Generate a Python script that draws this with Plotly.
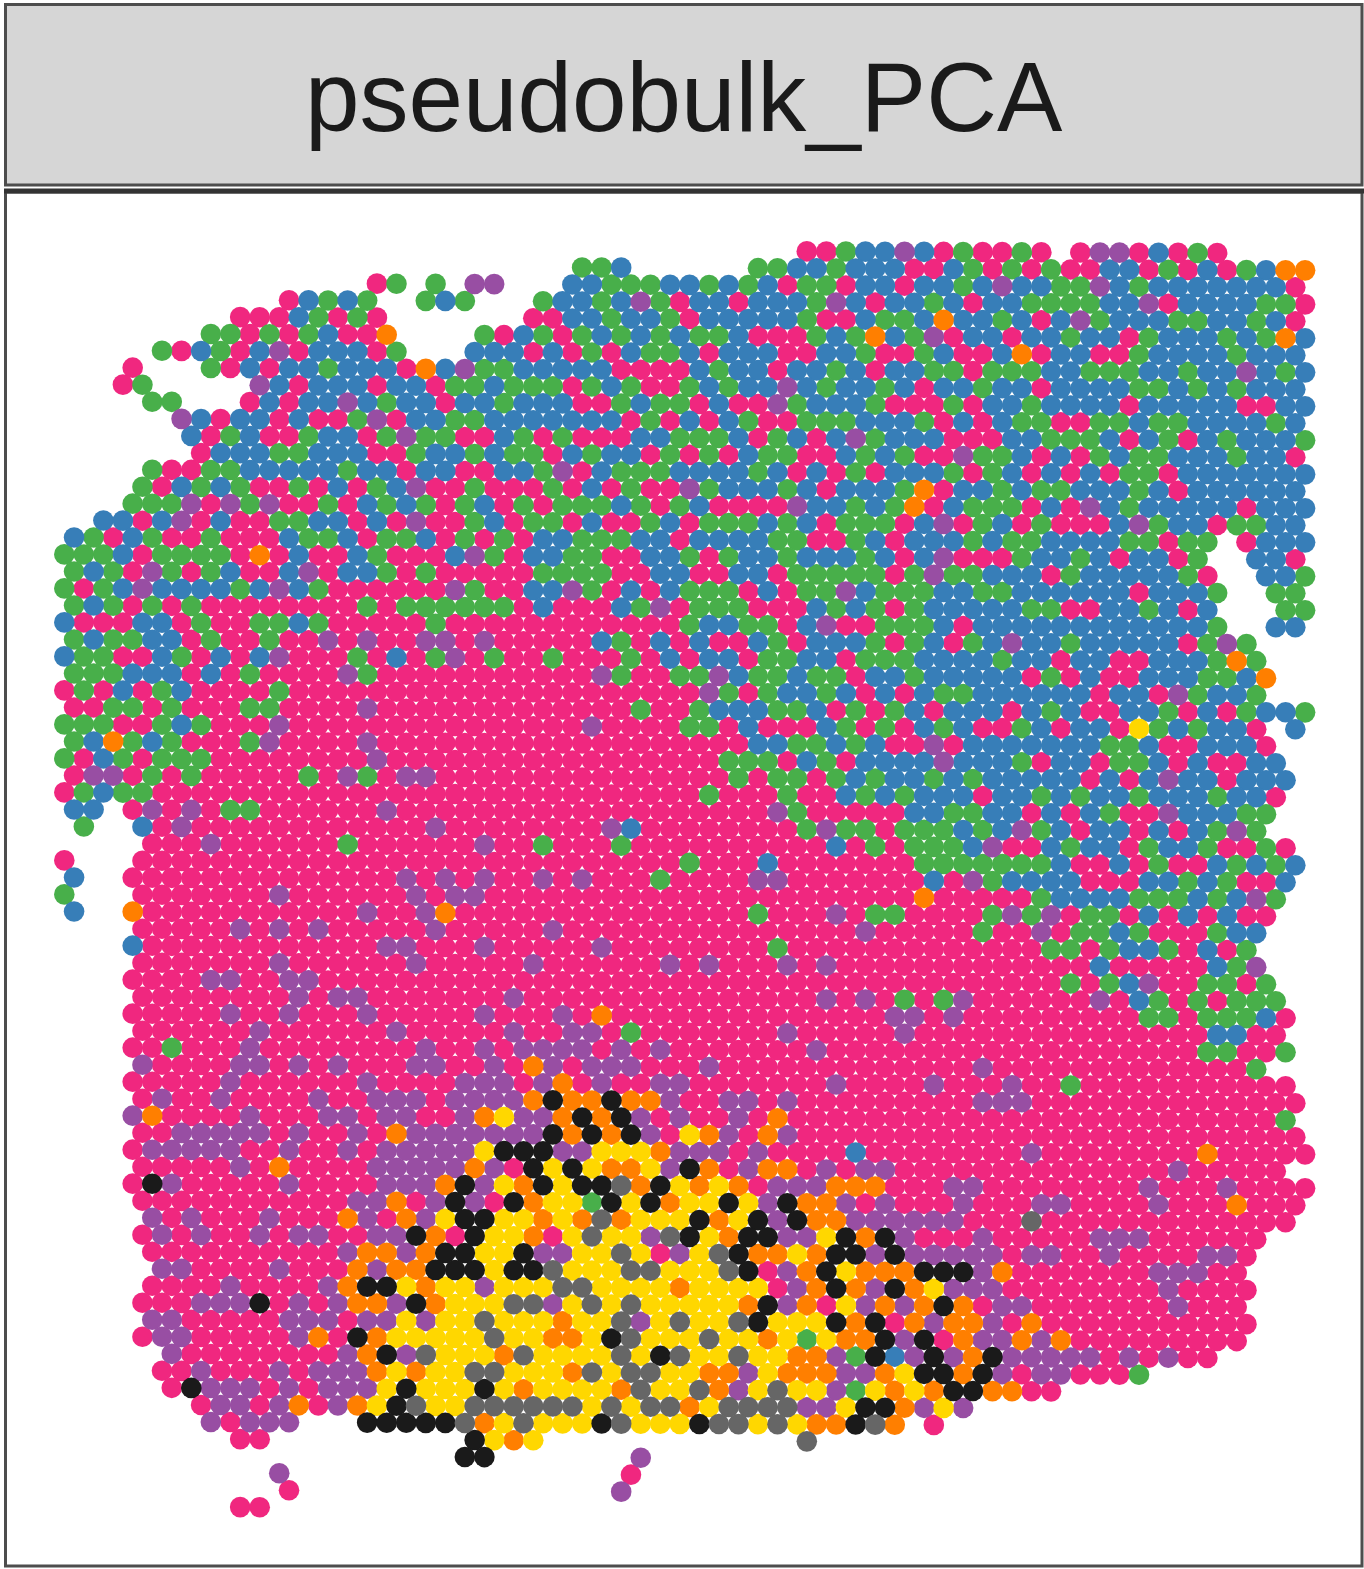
import plotly.graph_objects as go

TITLE = "pseudobulk_PCA"
CATEGORY_COLORS = {
    "M": "#F0277F", "G": "#48AF4A", "B": "#377EB8", "P": "#984EA3",
    "O": "#FF7F00", "Y": "#FFD700", "K": "#1A1A1A", "D": "#666666",
}
CATEGORY_ORDER = ["M", "G", "B", "P", "O", "Y", "K", "D"]

# One entry per grid row. "i:LETTERS" places spots from column i, "a-b" is a run of M.
ROWS = [
"38:MMGBBP 44:BMGMMGM 52:MPPMBMGM",
"26:GGB 35:GGBBGBBB 43:MMBGMGMGMMBBMGMBMGBOO",
"16:MG 19:G 21:PP 26:BBGGGBBGBGBMGGMBB 43:MBBGBPBBGGPBGBBBBBBBM",
"11:MBGBG 18:GBG 24:GBBGBPGMBBMBBBGPBMB 43:BGBMBBGGGGBBPMBBBBGGM",
"9:MMMBGMGM 24:MMBBGBBGMBBBBBGMMBGG 44:BOBBGBMBPGBBBGGBBGBM",
"7:GGMGMGBMMO 21:GMBGMGBGBGBGGBMMMGBGOBG 44:PMBBMBBGBBMGBBBGBGOB",
"5:GMBGMBPMBBBMG 21:BBBMBMGMBGGBMBBBMMBBGMM 44:GBMMBOMBBMMGBBBBGBBB",
"3:M 7:GMBMBBGBBBMOBP 21:GGBBBBBMMMMBGBBMBBGBMB 43:BGGMGGGBBGGGBBGBBPBGB",
"3:MG 10:PBMBBBMBBMG 21:GBGGGMGBGMMGBGBBPBGBBGB 44:MBBGBBMBBBBGGBGBGBBB",
"4:GG 9:MBMBBPBGBBM 20:BBGBBBMMGBGGMBMMPGBBBGM 43:MMGMBBGBBBBMBBBBBMMBB",
"6:PBMBBMBMMGPMBBG 21:GBBBBBBBMGMBMBGMMGGGBBB 44:GMBMBGGMMGGBGGBBBBGB",
"6:BMGBMMGBBMGPGG 20:MMBGMGMMMBBGGGBMGBMBPGB 43:BBMMMBBGGGBMBGMBGBBBG",
"7:MBBBGGBBBMMGBB 21:GBGGMBGBBMGMGMBGGMMBGBG 44:MMPGGBMBMGBGGBBBGBBM",
"4:GMMGGBBBBBGBBMBBM 21:MBBGPMBGGGBBBBGBMBMGMB 43:BBGMGBMBMBMGGMBBBBBBB",
"4:GMBGBGMMGMBMGBPMM 21:GMMMGMBMGMMPGBBBGBMBBBG 44:OMBBGBGGBBBGBMBBBBBB",
"3:GGGPMPGPMMGMBGBGMG 21:BMGMGGGBGMGBMMMMPBBGBG 43:OMBGGGMBMPBGBBBBBMBBB",
"2:BBMBPMBMMGGBBMBMPMM 21:GBMGGMBMMGBMGGGBGBMGGGM 44:BPMGBMGMMMBPGBBMGGBB",
"0:BGMBGMMGMMMBGGBMGGBMG 21:MGMBBGGGBBMBBBBGGMMGBMB 44:BBGBGGBBBBGGMGG 60:MBBB",
"0:GGGBMGGGGMOMBMMBGMMMB 21:PGMBBGGMMBBGMGBBGBBBGBM 44:BPMMMGBBGBMBBMG 61:BBM",
"0:GBGMPGMGBMMBPMBBGMGMM 21:MMMGGGGMMBBMMBBMGGGGGM 43:GPGGBBBMGBBBBBGM 61:BBG",
"0:GMGBPBBBBGBPBGMMMMMMP 21:GMMBBPGMBMBGGGMBMGGPBGG 44:GBBGGBBBBBBMBBBG 62:GG",
"0:GBGMGMGMMMMMMMMGMGGGG 21:GGMBMMMBGPMGGGMMMBGBGMG 44:BBBBBGGMMBBGBMB 62:GG",
"0:BMMMBBMGMMGGBGMMMMMGM 21:MMMMMMMMMMMGBBGGMBPMMGG 44:GBMBBBBBBBBBBBBG 62:BB",
"0:GBGGBBMGMMGMMPMPMMPPM 21:PMMMMMBGMBMBMMBGMBBBGM 43:GBMGBPBBGBBBBBMGPG",
"0:BGGMMBGMBMBPMMMGMBMGP 21:MGMMGMMMGMBMBBMGGBBMGG 43:GBBBBGBBMBBMMBBBGOG",
"0:GGGBBBMBMGMMMMPG 16-26 27:PGMMGGPBGGBGGMBB 43:GBBBBBMGMBMMBBBGGBO",
"0:MGMBMGBMMMMG 12-32 33:PGMGBBGBMBM 44:BGGBBBBBBMBBMPGBBG",
"0:MMGGMGMMMGGMMMMP 16-28 29:GMMGBBBGGBMGMG 43:BMBBBMBGBMMBBGMBMGBBG",
"0:GGGMMGBGMMMP 12-26 27:PMMMMGGMBMMMBGMGM 44:BGBMMGBMBBMYGBGBBM 63:B",
"0:GBOGBGMMMGPMMMMP 16-34 35:BBGGBGBMM 44:PMBBBBBBBGGBMMBBBM",
"0:GMBGMGGG 8-15 16:P 17-33 34:GGGMBGMBBB 44:BPBBBGMBBMGGBMBMMBB",
"0:MPPMGMG 7-11 12:GMPGMPP 19-33 34:GMGGMGBGBB 44:GBGBBBBBMBMBPBBMBBB",
"0:MGBGG 5-32 33:G 34-36 37:GMMBGBG 44:BBBMBBGBGBBGBBBGBBM",
"0:BB 3:MPMPMGG 10-15 16:P 17-35 36:PGMMMMMBB 45:GGBBMBMBGMMPBBBGG",
"1:G 4:BMP 7-18 19:P 20-27 28:PB 30-37 38:GPGGMG 44:GGBGBPGBMBBMBMBGPG",
"4:MMMP 8-13 14:G 15-20 21:P 22-23 24:G 25-27 28:G 29-38 39:BMGMG 44:GGBPMMBGBBMGBBGMMGM",
"0:M 4-31 32:G 33-35 36:B 37-43 44:GGGGGGG 51:BMMBMGMMBGBGB",
"0:B 3-16 17:PMPMPMMPMPMMM 30:G 31-34 35:PP 37-43 44:BMPGBBBBMMMBBGBGMMB",
"0:G 4-43 11:P 18:P 20:PP 44:OMMMMMGBBBBGGGBGBPG",
"0:B 3:O 4-34 15:P 18:PO 35:G 36-38 39:PMGG 43:MMMMGPGPMGGMBMBMBMM",
"4-46 9:P 11:P 13:P 19:P 25:P 41:P 47:GMMPMGGBGMMMGBB",
"3:B 4-49 16:PP 21:P 27:P 36:G 50:GGMGBBGMBMG",
"4-58 11:P 18:P 24:P 31:P 33:P 37:P 39:P 53:B 59:BGP",
"3-50 7:PP 11:PP 51:GMGBPMMGGMG",
"4-59 12:P 14:PP 23:P 39:P 41:P 43:G 45:GP 53:P 55:BG 58:G 60:GGG",
"3-57 8:P 11:P 15:P 21:P 25:P 27:O 42:PP 45:P 55:GG 58:GGGBM",
"4-58 10:P 17:P 23:P 26:PP 29:G 37:P 43:P 59:BBMM",
"3-57 5:G 9:P 18:P 21:P 23:PPPP 28:P 30:P 38:P 58:GGMMG",
"4-60 4:P 9:PP 12:P 14:P 18:PP 22:P 24:OP 27:PPP 33:P 47:P 61:G",
"3-62 8:P 15:P 20:PPP 24:PO 27:P 30:PP 39:P 44:P 48:P 51:G",
"4-63 5:P 8:P 13:P 16:PPP 20:PPPP 24:OKOOKOOP 34:PP 37:P 47:PPP",
"3-61 3:PO 9:P 13:PP 16:PP 20:POYPPOKOKPMP 34:P 36:O 62:G",
"4-63 6:PPPPP 12:P 15:P 17:OPPPPPPP 25:KOKOKP 32:YOP 36:OP",
"3-63 4:PPPPP 11:P 14:P 16:PPPPPYKKKPPYYYOPPP 35:P 40:B 49:P 58:O",
"4-62 9:P 11:O 16:PPPPPOPMKYKYOOYPKO 35:P 36:OO 39:P 41:PP 57:P",
"3-63 4:KP 11:P 16:PPPOKPYOKYKKDOKYOYO 36:PPP 39:OOO 45:PP 55:P 59:P",
"4-63 15:PPOMPKPMKOYYGKYKOYYKYPKOOPMP 46:P 50:PP 56:P 60:O",
"4-62 4:P 6:P 10:P 14:OPMOPYKKYYOYODOYYYKOYKPKOOPPPPPP 49:D",
"4-61 5:P 7:P 10:P 12:PP 16:PPKOMKYYOMYDYYPDKYOKKPPYKOKP 47:P 53:PPP",
"4-60 14:POOPOKKYYKPPYYDYMPYDKOOYOKKPKPPPPP 49:PP 53:P 58:PP",
"5-60 5:PP 11:P 15:OPOOKKKYKKDYYYDDYYYDKMPOKYOOOKKKPO 56:PPP",
"4-60 8:P 13:POKKYOYYPYYYDDYYYYOYYYYMPOKOPKOYPPP 56:P",
"4-60 7:PPPKMPMPOOPKOYYYDDPYDYDYYYYYOKPOMYPOPOKOMPP 57:P",
"4-60 4:PP 11:PPP 15:PPYPYYDYYYOYYDPYDYYDKYYYKOKMOPOOPMO",
"4-60 5:PP 12:POMKOYYYYYDYYOOYKDYYYDYYOYGYOOKPKMOPPOPO",
"5-58 5:P 14:POKPDYYYODYYYYDYKDYYDYYOOPGKBPKPOK 48:PPPPP 54:P 56:P",
"5-54 7:P 11:P 13:PPPOYOYYDDYYYODYDDYYOOPYOOOPPOYKKOKP 50:PP 55:G",
"5:MKPPPMPMPPPYKYYYKYOYYYYODYYDOPYDYYPGYOYOKKOOMM",
"7:MPPMPOMPOYKDYYDDDDDDYDYDDOYDDDDPPYKKOPYP",
"7:PMPPP 15:KKKKKDOYDYYYKDYYYKDDYDYOOKDO 44:M",
"9:MM 21:KYOY 38:D",
"20:KK 29:P",
"11:P 29:M",
"11:M 28:P",
"9:MM",
]

# pixel calibration of the hexagonal grid inside the 1364x1569 page
COL_STEP, ROW_STEP, X0, Y0, SHEAR = 19.54, 17.0, 64.3, 248.4, 0.004
W, H = 1364, 1569


def decode(row):
    cells = {}
    for tok in row.split():
        if ":" in tok:
            start, letters = tok.split(":")
            for k, ch in enumerate(letters):
                cells[int(start) + k] = ch
        else:
            a, b = tok.split("-")
            for k in range(int(a), int(b) + 1):
                cells[k] = "M"
    return cells


xs = {c: [] for c in CATEGORY_ORDER}
ys = {c: [] for c in CATEGORY_ORDER}
for r, row in enumerate(ROWS):
    for col, cat in decode(row).items():
        gx = col + (0.5 if r % 2 else 0.0)
        xs[cat].append(gx)
        ys[cat].append(r + gx * COL_STEP * SHEAR / ROW_STEP)

fig = go.Figure()
for cat in CATEGORY_ORDER:
    fig.add_trace(go.Scatter(
        x=xs[cat], y=ys[cat], mode="markers", name=cat, showlegend=False,
        marker=dict(color=CATEGORY_COLORS[cat], size=20.6, line=dict(width=0)),
        cliponaxis=False, hoverinfo="skip",
    ))

BORDER = "#333333"
def px_x(v):
    return v / W
def px_y(v):
    return 1 - v / H

fig.add_shape(type="rect", xref="paper", yref="paper", layer="below",
              x0=px_x(5.5), x1=px_x(1362), y0=px_y(4.5), y1=px_y(185),
              fillcolor="#D6D6D6", line=dict(color="#4D4D4D", width=3))
fig.add_shape(type="rect", xref="paper", yref="paper", layer="below",
              x0=px_x(5.5), x1=px_x(1362), y0=px_y(192), y1=px_y(1566),
              fillcolor="white", line=dict(color="#4D4D4D", width=3))
fig.add_shape(type="line", xref="paper", yref="paper", layer="below",
              x0=px_x(4), x1=px_x(1364), y0=px_y(191), y1=px_y(191),
              line=dict(color=BORDER, width=5))

fig.add_annotation(text=TITLE, xref="paper", yref="paper", x=px_x(684), y=px_y(97),
                   xanchor="center", yanchor="middle", showarrow=False,
                   font=dict(family="Liberation Sans", size=98, color="#1A1A1A"))

fig.update_layout(
    width=W, height=H, autosize=False,
    margin=dict(l=0, r=0, t=0, b=0),
    paper_bgcolor="white", plot_bgcolor="rgba(0,0,0,0)",
    showlegend=False,
    xaxis=dict(range=[-X0 / COL_STEP, (W - X0) / COL_STEP], visible=False, domain=[0, 1]),
    yaxis=dict(range=[(H - Y0) / ROW_STEP, -Y0 / ROW_STEP], visible=False, domain=[0, 1]),
)
fig.write_html("out.html", config={"displayModeBar": False},
               post_script="document.body.style.margin='0';")
